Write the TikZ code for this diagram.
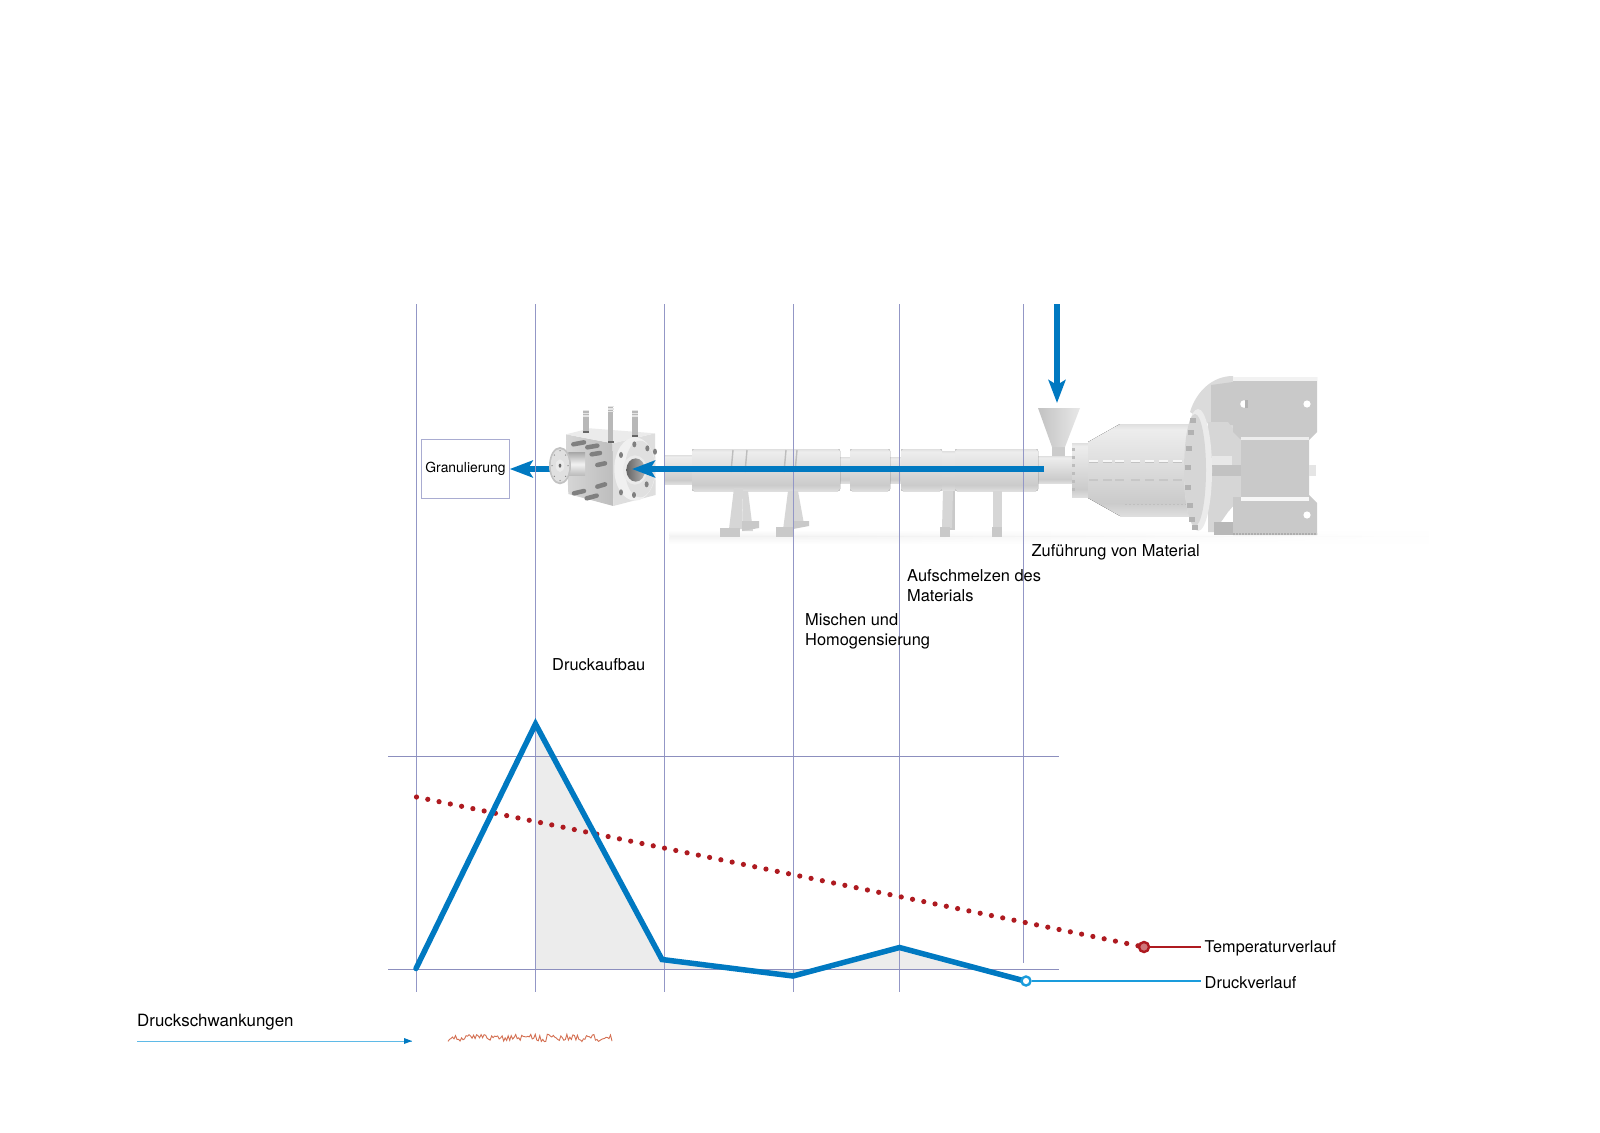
\documentclass[tikz,border=0pt]{standalone}
\usepackage{fontspec}
\setmainfont{TeX Gyre Heros}
\usepackage{tikz}
\usetikzlibrary{shapes,arrows.meta,positioning,calc,fadings}
\definecolor{flowblue}{HTML}{0079C1}
\definecolor{leadblue}{HTML}{1A9CDC}
\definecolor{tempred}{HTML}{AE1A20}
\definecolor{gridblue}{HTML}{9397C6}
\definecolor{axisblue}{HTML}{8C8FBE}
\definecolor{areagrey}{HTML}{ECECEC}
\definecolor{barrelt}{HTML}{EDEDED}
\definecolor{barrelm}{HTML}{DFDFDF}
\definecolor{barreld}{HTML}{CBCBCB}
\definecolor{barrelb}{HTML}{DEDEDE}
\definecolor{boxgrey}{HTML}{C9C9C9}
\definecolor{legrey}{HTML}{D6D6D6}
\pgfdeclareverticalshading{barrelshade}{100bp}{color(0bp)=(barrelb); color(25bp)=(barrelb); color(32bp)=(barreld); color(55bp)=(barrelm); color(72bp)=(barrelt); color(75bp)=(barrelm); color(100bp)=(barrelm)}
\tikzset{
  gridline/.style={gridblue,line width=1pt},
  axisline/.style={axisblue,line width=1pt},
  barrelpart/.style={shading=barrelshade,draw=none},
  legpart/.style={fill=legrey,draw=none},
  footpart/.style={fill=boxgrey,draw=none},
  flowarrow/.style={flowblue,line width=6pt,-{Stealth[length=23pt,width=17pt,inset=5pt]}},
  lbl/.style={font=\fontsize{16.4}{19.5}\selectfont,anchor=west,inner sep=0pt,align=left,text=black},
  pumpbolt/.style={line width=4.5pt,line cap=round,draw=black!50},
  pumphole/.style={fill=black!50,draw=none},
}
\begin{document}
\begin{tikzpicture}[x=1pt,y=-1pt]
\useasboundingbox[fill=white] (0,0) rectangle (1600,1132);

\shade[top color=white,bottom color=black!5,path fading=east,draw=none] (670,530) rectangle (1430,536);
\shade[top color=black!5,bottom color=white,path fading=east,draw=none] (670,536) rectangle (1430,544);

\foreach \xa/\xb/\ya/\yb in {664/692/455/484,839/851/457/483,889/902/457/483,1037/1073/456/483}
  \fill[barrelpart] (\xa,\ya) rectangle (\xb,\yb);
\foreach \xa/\xb in {692/840,850/890,901/942,955/1038}
  \fill[barrelpart,rounded corners=2pt] (\xa,449) rectangle (\xb,491);
\foreach \xa/\xb in {942/955}
  \fill[barrelpart] (\xa,451) rectangle (\xb,490);
\foreach \xa in {733,747,786,797}
  \draw[black!26,line width=1.4pt] (\xa,450) -- ++(-2,22);

\fill[legpart] (734,488) -- (743,488) -- (742,529) -- (729,529) -- cycle;
\fill[legpart] (743,491) -- (748,491) -- (753,531) -- (742,531) -- cycle;
\fill[footpart] (742,521) -- (759,521) -- (759,528) -- (742,531) -- cycle;
\fill[footpart] (720,528) rectangle (740,537);
\fill[legpart] (788,491) -- (793,491) -- (793,530) -- (783,530) -- cycle;
\fill[legpart] (793,491) -- (798,491) -- (804,524) -- (793,524) -- cycle;
\fill[footpart] (793,521) -- (809,521) -- (809,526) -- (793,529) -- cycle;
\fill[footpart] (776,527) rectangle (793,537);
\fill[footpart] (950,491) rectangle (955,530);
\fill[legpart] (943,491) -- (953,491) -- (952,528) -- (942,528) -- cycle;
\fill[footpart] (940,527) rectangle (950,537);
\fill[legpart] (993,491) rectangle (1002,527);
\fill[footpart] (992,527) rectangle (1002,537);

\fill[barreld] (1052,444) rectangle (1065,456);
\shade[left color=black!24,right color=black!9,draw=none] (1038,408) -- (1080,408) -- (1065,447) -- (1052,447) -- cycle;

\fill[barrelpart] (1072,443) rectangle (1088,497);
\foreach \ybolt in {448,456,464,472,480,488}
  \fill[black!26] (1072,\ybolt) rectangle ++(3,3);
\fill[barrelpart] (1088,442) -- (1120,424) -- (1193,424) -- (1193,516) -- (1120,516) -- (1088,498) -- cycle;
\foreach \xdash in {1093,1107,1119,1135,1149,1163,1177,1191} {
  \fill[black!3] (\xdash-4,460) rectangle (\xdash+5,462);
  \fill[black!24] (\xdash-4,462) rectangle (\xdash+5,463);
  \fill[black!22] (\xdash-4,479) rectangle (\xdash+5,481);
}
\draw[black!25,line width=1pt,dash pattern=on 2pt off 2pt] (1125,504) -- (1188,504);

\fill[black!14] (1233,376) .. controls (1212,376) and (1196,392) .. (1190,412) -- (1233,440) -- cycle;
\fill[boxgrey] (1211,385) -- (1233,382) -- (1233,425) -- (1211,425) -- cycle;
\fill[black!16] (1208,422) -- (1228,422) -- (1241,440) -- (1241,497) -- (1228,512) -- (1214,532) -- (1208,532) -- cycle;
\fill[black!28] (1214,522) rectangle (1233,535);
\fill[black!9] (1212,456) rectangle (1232,465);
\fill[black!24] (1212,465) rectangle (1241,476);
\fill[black!8] (1198,470) ellipse (14 and 61);
\fill[black!16] (1195,470) ellipse (11 and 56);
\foreach \a in {105,125,...,255}
  \fill[black!30] ($(1194,470)+(\a:9 and 57)$) rectangle ++(6,5);

\fill[boxgrey] (1233,377) -- (1317,377) -- (1317,432) -- (1309,440) -- (1309,495) -- (1317,503) -- (1317,535) -- (1233,535) -- (1233,497) -- (1241,497) -- (1241,440) -- (1233,432) -- cycle;
\fill[black!5] (1233,377) rectangle (1317,381);
\fill[black!7] (1241,437) rectangle (1309,440);
\fill[black!3] (1241,497) rectangle (1309,501);
\draw[black!32,line width=2pt,dash pattern=on 2pt off 1pt] (1233,534) -- (1317,534);
\fill[black!10] (1309,465) rectangle (1316,476);
\fill[white] (1307,404) circle (3.6);
\fill[white] (1307,515) circle (3.6);
\fill[white] (1244,404) circle (3.8);
\fill[black!30] (1245,400) rectangle (1248,408);

\fill[areagrey] (535.5,723) -- (661.5,959.5) -- (793,976) -- (833,969) -- (899.5,947) -- (973,969) -- (535.5,969) -- cycle;

\draw[flowblue,line width=6pt] (550,469) -- (520,469);

\begin{scope}[shift={(540,395)},x=0.3333pt,y=-0.3333pt]
  \shade[left color=black!16,right color=black!26] (78,118) -- (218,145) -- (220,333) -- (85,297) -- cycle;
  \fill[black!13] (218,145) -- (345,115) -- (347,300) -- (220,333) -- cycle;
  \fill[black!8] (78,118) -- (150,100) -- (345,115) -- (218,145) -- cycle;
  \foreach \xs/\ya/\yb in {138/45/112,285/45/122,212/32/140} {
    \fill[black!28] (\xs-8,\ya) rectangle (\xs+8,\yb);
    \foreach \yt in {0,8,16}
      \fill[black!10] (\xs-9,\ya+\yt) rectangle (\xs+9,\ya+\yt+4);
    \fill[black!60] (\xs-9,\yb-3) rectangle (\xs+9,\yb+3);
  }
  \foreach \xa/\ya/\xb/\yb in {100/148/132/142,142/157/172/152,155/178/180/174,172/210/195/205,172/275/195/268,102/295/132/288,140/310/170/302}
    \draw[pumpbolt] (\xa,\ya) -- (\xb,\yb);
  \fill[black!6] (285,222) ellipse (62 and 95);
  \fill[black!12] (300,222) ellipse (45 and 85);
  \foreach \xh/\yh in {283/148,322/160,243/180,320/268,282/300,243/292,345/170}
    \fill[pumphole] (\xh,\yh) ellipse (6 and 9);
  \fill[white!92!black] (285,225) ellipse (36 and 44);
  \shade[left color=black!60,right color=black!30] (287,225) ellipse (28 and 35);
  \shade[top color=black!34,bottom color=black!28,middle color=white!95!black] (85,172) rectangle (135,243);
  \fill[black!24] (60,212) ellipse (33 and 56);
  \fill[black!12] (60,212) ellipse (28 and 50);
  \fill[white!92!black] (60,212) ellipse (13 and 19);
  \fill[black!60] (60,212) ellipse (4 and 6);
  \foreach \a in {0,45,...,315}
    \fill[black!50] ($(60,212)+(\a:24 and 45)$) circle (2);
\end{scope}

\foreach \xgrid/\ybot in {416.5/992,535/992,664/992,793/992,899/992,1023.5/962.5}
  \draw[gridline] (\xgrid,304) -- (\xgrid,\ybot);
\draw[axisline] (388,756) -- (1059,756);
\draw[axisline] (388,969) -- (1059,969);

\node[draw=gridblue!80!white,line width=1pt,minimum width=87.5pt,minimum height=59.5pt,inner sep=0pt,font=\fontsize{13.9}{16}\selectfont,text=black] (granu) at (465.5,469) {\raisebox{-0.8pt}{Granulierung}};

\coordinate (feedtop) at (1057,304);
\coordinate (feedtip) at (1057,403);
\coordinate (meltstart) at (1044,469);
\coordinate (melttip) at (632,469);
\coordinate (pumpout) at (530,469);
\draw[flowarrow] (feedtop) -- (feedtip);
\draw[flowarrow] (meltstart) -- (melttip);
\draw[flowarrow] (pumpout) -- (granu.east);

\node[lbl] (feedlbl) at (1031.5,552) {Zuführung von Material};
\node[lbl] (meltlbl) at (907,585.5) {Aufschmelzen des\\Materials};
\node[lbl] (mixlbl) at (805,631.5) {Mischen und\\Homogensierung};
\node[lbl] (buildlbl) at (552,664.5) {Druckaufbau};

\coordinate (tempstart) at (416.5,797);
\coordinate (tempspot) at (1144,947);
\coordinate (tempend) at (1201,947);
\coordinate (pressend) at (1201,981);
\draw[tempred,line width=5.2pt,line cap=round,dash pattern=on 0pt off 11.51pt] (tempstart) -- (tempspot);
\node[circle,draw=tempred,fill=tempred!60!white,line width=2.4pt,minimum size=10pt,inner sep=0pt] (tempdot) at (tempspot) {};
\node[lbl,anchor=base west,font=\fontsize{16.25}{19.5}\selectfont] (templbl) at (1204.5,952.7) {Temperaturverlauf};
\node[lbl,anchor=base west] (presslbl) at (1204.5,988) {Druckverlauf};
\draw[tempred,line width=2pt] (tempdot.east) -- (tempend);

\draw[flowblue,line width=5.5pt,line join=miter,line cap=round] (416,968.5) -- (535.5,724) -- (662,959.5) -- (793,976) -- (899.5,947.5) -- (1025,981);
\node[circle,draw=leadblue,fill=white,line width=2.4pt,minimum size=9pt,inner sep=0pt] (pressdot) at (1026,981) {};
\draw[leadblue,line width=2pt] (pressdot.east) -- (pressend);

\node[lbl,anchor=base west,font=\fontsize{16.9}{19.5}\selectfont] (swinglbl) at (137,1026) {Druckschwankungen};
\coordinate (swingstart) at (137,1041);
\coordinate (swingend) at (412,1041);
\draw[leadblue!70!white,line width=1pt] (swingstart) -- (swingend);
\fill[flowblue] (412,1041) -- (404,1038) -- (404,1044) -- cycle;
\pgfmathsetseed{11}
\draw[red!55!orange!75!black!90,opacity=0.75,line width=0.9pt] plot[domain=448:612,samples=110] (\x,{1038+7.5*rnd-3.8});
\end{tikzpicture}
\end{document}
